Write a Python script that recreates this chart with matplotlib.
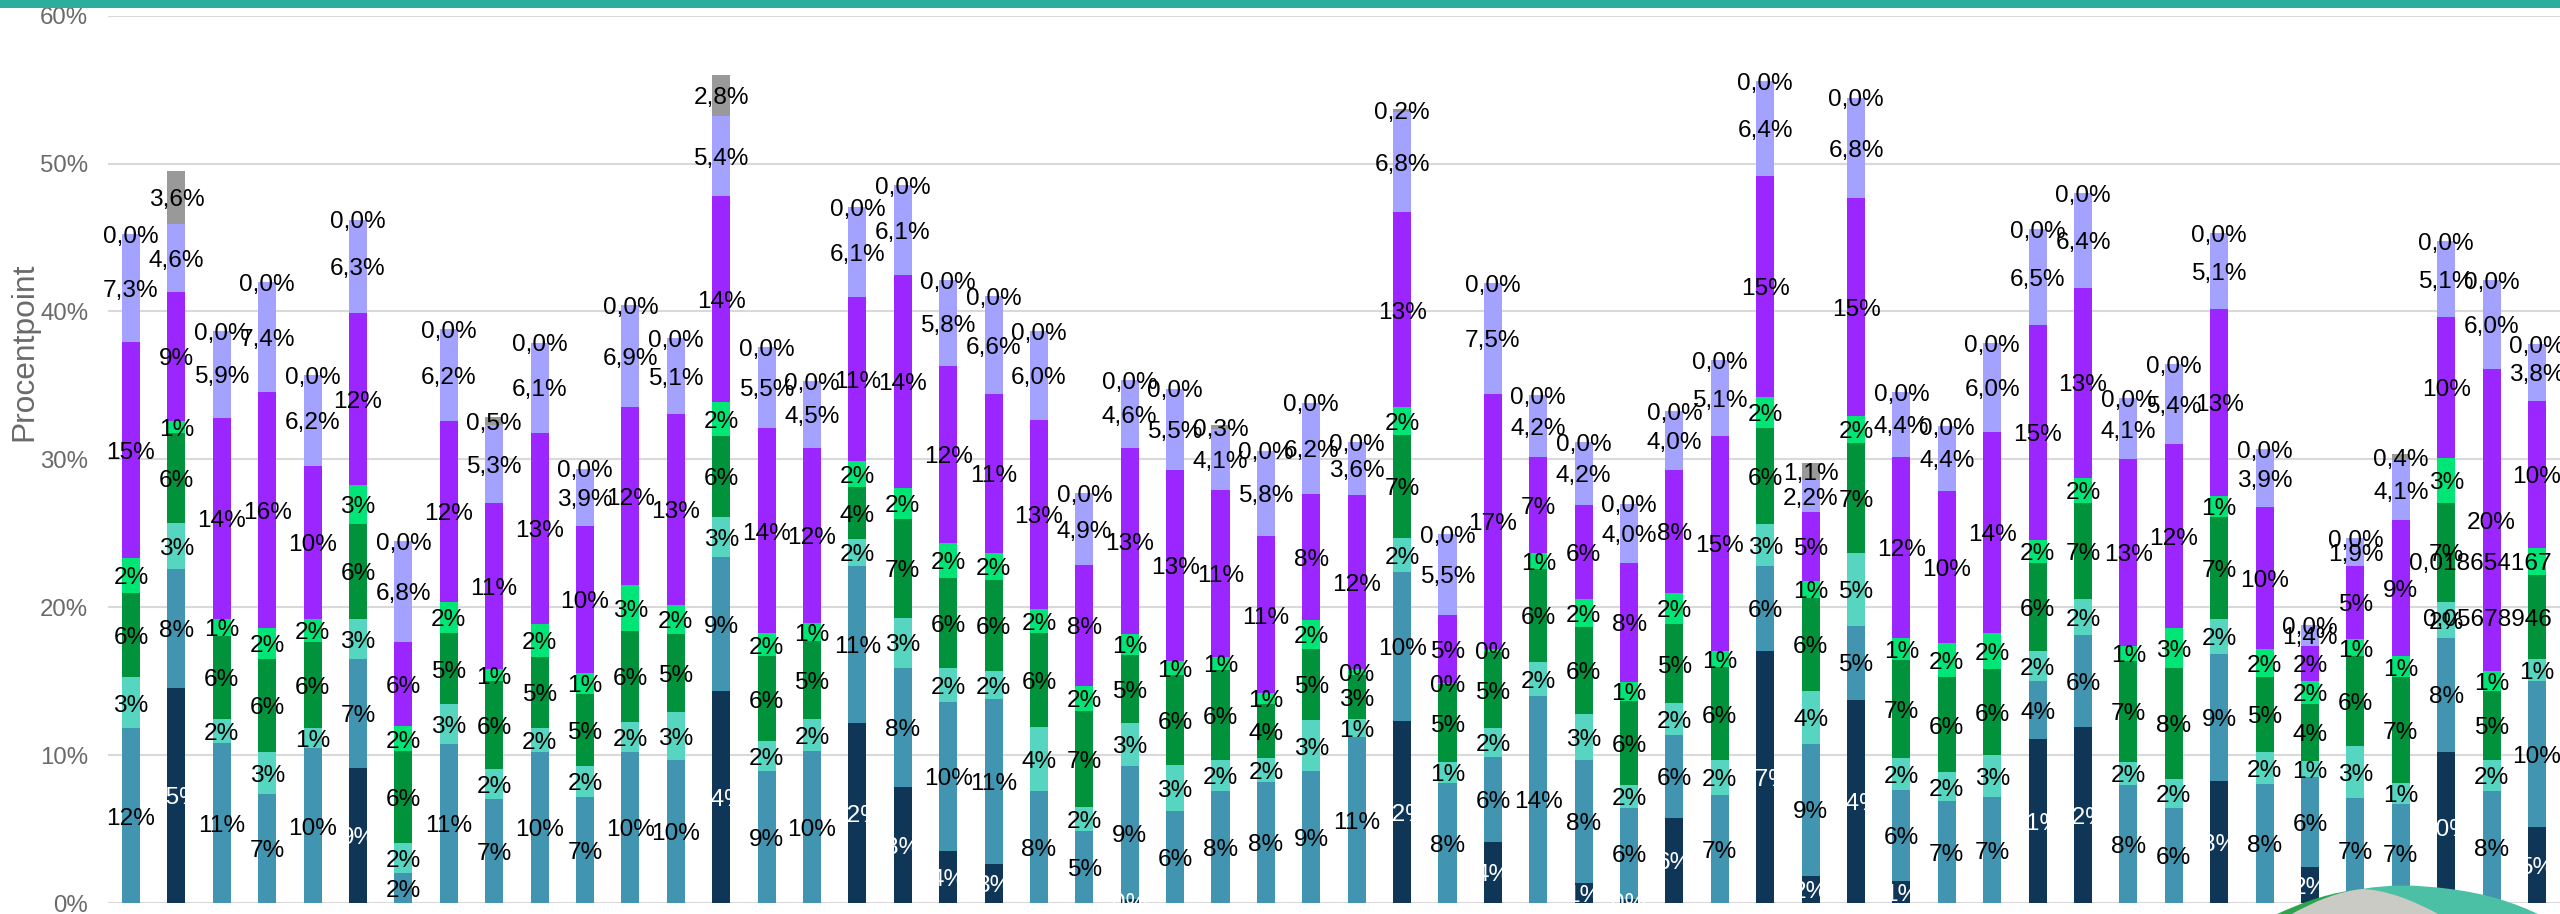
import matplotlib
matplotlib.use("Agg")
import matplotlib.pyplot as plt
import numpy as np
from matplotlib.patches import PathPatch, Rectangle
from matplotlib.path import Path
from matplotlib.transforms import Affine2D

plt.rcParams['font.family'] = ['Liberation Sans', 'DejaVu Sans']

navy = [0,14.56,0,0,0,9.15,0,0,0,0,0,0,0,14.31,0,0,12.19,7.87,3.54,2.66,0,0,0.25,0,0,0,0,0,12.33,0,4.15,0,1.35,0.3,5.77,0,17.04,1.85,13.75,1.46,0,0,11.07,11.88,0,0,8.27,0,2.41,0,0,10.23,0,5.12]
blue = [11.8,8.05,10.84,7.39,10.45,7.37,2.05,10.73,7.05,10.19,7.19,10.19,9.65,9.08,8.9,10.3,10.62,8.05,10.07,11.13,7.6,4.85,9.0,6.24,7.6,8.2,8.9,11.22,10.05,8.09,5.75,13.97,8.32,6.15,5.61,7.32,5.77,8.92,5.0,6.2,6.87,7.17,3.97,6.27,8.0,6.4,8.56,8.07,6.11,7.12,6.69,7.71,7.6,9.92]
light = [3.47,3.09,1.6,2.82,1.4,2.68,2.0,2.7,2.0,1.65,2.05,2.07,3.27,2.68,2.05,2.12,1.78,3.38,2.25,1.92,4.3,1.65,2.91,3.09,2.07,1.6,3.47,1.22,2.3,1.45,1.92,2.32,3.09,1.53,2.14,2.34,2.82,3.55,4.91,2.14,1.98,2.84,2.0,2.39,1.53,1.98,2.4,2.14,1.1,3.49,1.42,2.39,2.07,1.45]
green = [5.7,6.1,5.6,6.29,5.77,6.45,6.2,4.8,5.95,4.82,4.91,6.13,5.3,5.54,5.72,5.32,3.54,6.69,6.13,6.13,6.38,6.51,4.6,6.11,6.09,3.67,4.82,2.95,6.96,5.27,5.16,6.29,5.93,5.7,5.32,6.27,6.49,6.29,7.46,6.65,6.4,5.84,5.95,6.54,6.81,7.53,6.85,5.09,3.83,6.06,7.14,6.74,4.67,5.678946]
bright = [2.34,.81,1.15,2.07,1.6,2.59,1.71,2.14,.83,2.23,1.4,3.13,1.92,2.25,1.56,1.17,1.76,2.07,2.32,1.8,1.6,1.67,1.44,.9,.9,.72,1.98,.45,1.87,.1,.2,1.08,1.87,1.28,2.12,1.08,2.07,1.17,1.8,1.46,2.32,2.41,1.56,1.69,1.06,2.68,1.46,1.87,1.56,1.15,1.42,3.02,1.37,1.8654167]
purple = [14.6,8.7,13.6,16.0,10.3,11.67,5.72,12.24,11.22,12.91,9.92,11.99,12.96,13.95,13.88,11.88,11.07,14.4,12.01,10.8,12.8,8.16,12.55,12.94,11.29,10.6,8.47,11.74,13.2,4.55,17.26,6.51,6.38,8.05,8.32,14.58,14.99,4.64,14.74,12.26,10.28,13.59,14.54,12.85,12.62,12.44,12.64,9.6,2.4,4.98,9.2,9.55,20.4,9.94]
lavender = [7.3,4.6,5.9,7.4,6.2,6.3,6.8,6.2,5.3,6.1,3.9,6.9,5.1,5.4,5.5,4.5,6.1,6.1,5.8,6.6,6.0,4.9,4.6,5.5,4.1,5.8,6.2,3.6,6.8,5.5,7.5,4.2,4.2,4.0,4.0,5.1,6.4,2.2,6.8,4.4,4.4,6.0,6.5,6.4,4.1,5.4,5.1,3.9,1.4,1.9,4.1,5.1,6.0,3.8]
gray = [0,3.6,0,0,0,0,0,0,0.5,0,0,0,0,2.8,0,0,0,0,0,0,0,0,0,0,0.3,0,0,0,0.2,0,0,0,0,0,0,0,0,1.1,0,0,0,0,0,0,0,0,0,0,0,0,0.4,0,0,0]

series = [navy, blue, light, green, bright, purple, lavender, gray]
colors = ['#0F3557', '#4295B0', '#56D6C0', '#00933B', '#00E676', '#9B26FF', '#A3A3FF', '#999999']
y_ticks = [0, 10, 20, 30, 40, 50, 60]
y_title = 'Procentpoint'
FS = 17.6
W, H = 2560, 914

fig = plt.figure(figsize=(W/100, H/100), dpi=100, facecolor='white')
ax = fig.add_axes([108.3/W, (H-903)/H, (2559.7-108.3)/W, 887.3/H])
ax.set_xlim(-0.5, len(navy)-0.5)
ax.set_ylim(0, 60)
ax.set_facecolor('none')
for s in ax.spines.values():
    s.set_visible(False)
ax.set_axisbelow(True)
ax.yaxis.grid(True, color='#D9D9D9', lw=1.5)
ax.xaxis.set_visible(False)
ax.set_yticks(y_ticks)
ax.set_yticklabels([f'{t}%' for t in y_ticks], fontsize=17.3, color='#6A6A6A')
ax.tick_params(axis='y', length=0, pad=14.5)
for lab in ax.get_yticklabels():
    lab.set_clip_on(False)

x = np.arange(len(navy))
bottom = np.zeros(len(navy))
for k, (vals, col) in enumerate(zip(series, colors)):
    vals = np.array(vals, float)
    ax.bar(x, vals, 0.397, bottom=bottom, color=col, linewidth=0, zorder=3)
    for i, v in enumerate(vals):
        if k == 0 and v == 0:
            continue
        yc = bottom[i] + v/2
        if k >= 6:
            txt = f'{v:.1f}%'.replace('.', ',')
        else:
            txt = f'{v:.0f}%'
        if i == len(navy)-1 and k in (3, 4):
            txt = f'{v/100:.9g}'.replace('.', ',')
            ax.annotate(txt, (i+0.33, yc), xytext=(0, -2), textcoords='offset points',
                        ha='right', va='center', fontsize=FS, color='black', zorder=5)
            continue
        ax.annotate(txt, (i, yc), xytext=(0, -2), textcoords='offset points',
                    ha='center', va='center', fontsize=FS,
                    color='white' if k == 0 else 'black', zorder=5)
    bottom += vals

fig.text(24/W, 1-352/H, y_title, rotation=90, ha='center', va='center', fontsize=22.9, color='#6A6A6A')

px = Affine2D().scale(1/W, -1/H).translate(0, 1) + fig.transFigure
fig.add_artist(Rectangle((0, 0), W, 8, transform=px, facecolor='#2BAE9B', edgecolor='none', zorder=10))

fig.add_artist(PathPatch(Path([(2273, 916), (2320, 893), (2362, 889), (2362, 916), (2273, 916)],
                              [Path.MOVETO, Path.CURVE3, Path.CURVE3, Path.LINETO, Path.CLOSEPOLY]),
                         transform=px, facecolor='#2EA44F', edgecolor='none', zorder=11))
fig.add_artist(PathPatch(Path([(2362, 889), (2400, 882), (2450, 889), (2500, 895), (2542, 916), (2362, 916), (2362, 889)],
                              [Path.MOVETO, Path.CURVE3, Path.CURVE3, Path.CURVE3, Path.CURVE3, Path.LINETO, Path.CLOSEPOLY]),
                         transform=px, facecolor='#4BC0A5', edgecolor='none', zorder=11))
fig.add_artist(PathPatch(Path([(2288, 916), (2330, 892), (2362, 889), (2395, 890), (2442, 916), (2288, 916)],
                              [Path.MOVETO, Path.CURVE3, Path.CURVE3, Path.CURVE3, Path.CURVE3, Path.CLOSEPOLY]),
                         transform=px, facecolor='#CBCBC6', edgecolor='none', zorder=12))

fig.savefig('out.png', dpi=100, facecolor='white')
